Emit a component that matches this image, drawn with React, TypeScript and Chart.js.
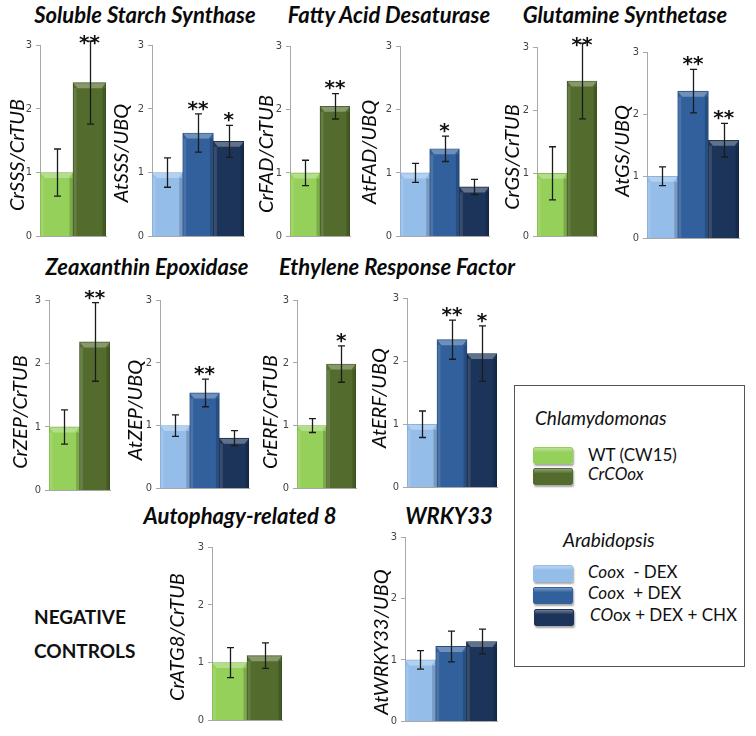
import React, { useEffect, useRef } from "react";
import { Chart, registerables } from "chart.js";

Chart.register(...registerables);

// ---------- data ----------
const crCategories = ["WT (CW15)", "CrCOox"];
const atCategories = ["Coox - DEX", "Coox + DEX", "COox + DEX + CHX"];
const yTicks = [0, 1, 2, 3];

const sssCrValues = [1.0, 2.41];
const sssCrErr = [0.37, 0.65];
const sssCrSig = ["", "**"];
const sssAtValues = [1.0, 1.62, 1.49];
const sssAtErr = [0.23, 0.3, 0.25];
const sssAtSig = ["", "**", "*"];

const fadCrValues = [1.0, 2.05];
const fadCrErr = [0.2, 0.2];
const fadCrSig = ["", "**"];
const fadAtValues = [1.0, 1.38, 0.78];
const fadAtErr = [0.15, 0.2, 0.12];
const fadAtSig = ["", "*", ""];

const gsCrValues = [1.0, 2.46];
const gsCrErr = [0.42, 0.6];
const gsCrSig = ["", "**"];
const gsAtValues = [1.0, 2.37, 1.58];
const gsAtErr = [0.15, 0.35, 0.27];
const gsAtSig = ["", "**", "**"];

const zepCrValues = [1.0, 2.34];
const zepCrErr = [0.27, 0.62];
const zepCrSig = ["", "**"];
const zepAtValues = [1.0, 1.52, 0.8];
const zepAtErr = [0.17, 0.22, 0.12];
const zepAtSig = ["", "**", ""];

const erfCrValues = [1.0, 1.98];
const erfCrErr = [0.11, 0.29];
const erfCrSig = ["", "*"];
const erfAtValues = [1.0, 2.34, 2.12];
const erfAtErr = [0.21, 0.31, 0.44];
const erfAtSig = ["", "**", "*"];

const atgCrValues = [1.0, 1.12];
const atgCrErr = [0.26, 0.22];
const atgCrSig = ["", ""];
const wrkyAtValues = [1.0, 1.22, 1.3];
const wrkyAtErr = [0.15, 0.25, 0.2];
const wrkyAtSig = ["", "", ""];

// ---------- styles ----------
const crColors = ["#95D05A", "#536C2D"];
const crBorders = ["#7DB045", "#3E5420"];
const atColors = ["#95BDE9", "#31609C", "#1C3459"];
const atBorders = ["#7FA6D4", "#254D80", "#132540"];

const FONT_UI = "Lato, 'Open Sans', 'DejaVu Sans', sans-serif";
const TICK_FONT = "'DejaVu Sans Condensed', 'Liberation Sans Narrow', 'DejaVu Sans', sans-serif";

type PanelDef = {
  labels: string[];
  values: number[];
  err: number[];
  sig: string[];
  colors: string[];
  borders: string[];
  yTitle: string;
  // layout (page pixels)
  ax: number;
  top: number;
  bottom: number;
  barW: number;
  tx: number;
  ty: number;
};

const panels: PanelDef[] = [
  { labels: crCategories, values: sssCrValues, err: sssCrErr, sig: sssCrSig, colors: crColors, borders: crBorders, yTitle: "CrSSS/CrTUB", ax: 40, top: 45, bottom: 237, barW: 33, tx: 18, ty: 155 },
  { labels: atCategories, values: sssAtValues, err: sssAtErr, sig: sssAtSig, colors: atColors, borders: atBorders, yTitle: "AtSSS/UBQ", ax: 152, top: 45, bottom: 237, barW: 30.7, tx: 122, ty: 153 },
  { labels: crCategories, values: fadCrValues, err: fadCrErr, sig: fadCrSig, colors: crColors, borders: crBorders, yTitle: "CrFAD/CrTUB", ax: 290, top: 46, bottom: 237, barW: 30, tx: 267, ty: 154 },
  { labels: atCategories, values: fadAtValues, err: fadAtErr, sig: fadAtSig, colors: atColors, borders: atBorders, yTitle: "AtFAD/UBQ", ax: 400, top: 46, bottom: 237, barW: 29.7, tx: 370, ty: 152 },
  { labels: crCategories, values: gsCrValues, err: gsCrErr, sig: gsCrSig, colors: crColors, borders: crBorders, yTitle: "CrGS/CrTUB", ax: 537, top: 47, bottom: 237, barW: 30, tx: 513, ty: 157 },
  { labels: atCategories, values: gsAtValues, err: gsAtErr, sig: gsAtSig, colors: atColors, borders: atBorders, yTitle: "AtGS/UBQ", ax: 647, top: 52, bottom: 239, barW: 30.7, tx: 623, ty: 151 },
  { labels: crCategories, values: zepCrValues, err: zepCrErr, sig: zepCrSig, colors: crColors, borders: crBorders, yTitle: "CrZEP/CrTUB", ax: 49, top: 300, bottom: 491, barW: 30.5, tx: 21, ty: 412 },
  { labels: atCategories, values: zepAtValues, err: zepAtErr, sig: zepAtSig, colors: atColors, borders: atBorders, yTitle: "AtZEP/UBQ", ax: 160, top: 300, bottom: 489, barW: 29.7, tx: 136, ty: 410 },
  { labels: crCategories, values: erfCrValues, err: erfCrErr, sig: erfCrSig, colors: crColors, borders: crBorders, yTitle: "CrERF/CrTUB", ax: 297, top: 300, bottom: 489, barW: 29.5, tx: 271, ty: 412 },
  { labels: atCategories, values: erfAtValues, err: erfAtErr, sig: erfAtSig, colors: atColors, borders: atBorders, yTitle: "AtERF/UBQ", ax: 407, top: 298, bottom: 488, barW: 30, tx: 380, ty: 398 },
  { labels: crCategories, values: atgCrValues, err: atgCrErr, sig: atgCrSig, colors: crColors, borders: crBorders, yTitle: "CrATG8/CrTUB", ax: 212, top: 547, bottom: 721, barW: 35, tx: 178, ty: 637 },
  { labels: atCategories, values: wrkyAtValues, err: wrkyAtErr, sig: wrkyAtSig, colors: atColors, borders: atBorders, yTitle: "AtWRKY33/UBQ", ax: 405, top: 537, bottom: 722, barW: 30.7, tx: 382, ty: 642 },
];

const titles = [
  { text: "Soluble Starch Synthase", cx: 145, cy: 15 },
  { text: "Fatty Acid Desaturase", cx: 389, cy: 15 },
  { text: "Glutamine Synthetase", cx: 625, cy: 15 },
  { text: "Zeaxanthin Epoxidase", cx: 147, cy: 267 },
  { text: "Ethylene Response Factor", cx: 397, cy: 267 },
  { text: "Autophagy-related 8", cx: 240, cy: 516 },
  { text: "WRKY33", cx: 449, cy: 516 },
];

function lighten(hex: string, amt: number) {
  const n = parseInt(hex.slice(1), 16);
  const r = (n >> 16) & 255, g = (n >> 8) & 255, b = n & 255;
  const f = (c: number) => Math.round(c + (255 - c) * amt);
  return `rgb(${f(r)},${f(g)},${f(b)})`;
}

const barDecorPlugin = {
  id: "barDecor",
  afterDatasetsDraw(chart: any, _args: any, opts: any) {
    const { ctx } = chart;
    const meta = chart.getDatasetMeta(0);
    const yScale = chart.scales.y;
    ctx.save();
    // bevel
    meta.data.forEach((el: any, i: number) => {
      const w = el.width;
      const l = el.x - w / 2 + 0.5, r = el.x + w / 2 - 0.5, t = el.y + 0.5, b = el.base;
      const col = opts.colors[i];
      ctx.fillStyle = lighten(col, 0.3);
      ctx.beginPath();
      ctx.moveTo(l, t);
      ctx.lineTo(r, t);
      ctx.lineTo(r - 4, t + 5);
      ctx.lineTo(l + 4, t + 5);
      ctx.closePath();
      ctx.fill();
      ctx.fillStyle = "rgba(255,255,255,0.12)";
      ctx.fillRect(l, t + 5, 3, b - t - 5);
      ctx.fillStyle = "rgba(0,0,0,0.18)";
      ctx.fillRect(r - 3, t + 5, 3, b - t - 5);
    });
    // error bars
    ctx.strokeStyle = "#1b1b1b";
    ctx.lineWidth = 1.3;
    meta.data.forEach((el: any, i: number) => {
      const v = opts.values[i], e = opts.err[i];
      const yHi = yScale.getPixelForValue(v + e);
      const yLo = yScale.getPixelForValue(v - e);
      const x = Math.round(el.x) + 0.5;
      ctx.beginPath();
      ctx.moveTo(x, yHi);
      ctx.lineTo(x, yLo);
      ctx.moveTo(x - 3.5, yHi);
      ctx.lineTo(x + 3.5, yHi);
      ctx.moveTo(x - 3.5, yLo);
      ctx.lineTo(x + 3.5, yLo);
      ctx.stroke();
      const s = opts.sig[i];
      if (s) {
        const level = Math.min(v + e + 0.13, 3.08);
        const yc = yScale.getPixelForValue(level);
        ctx.font = "bold 20px 'DejaVu Sans', sans-serif";
        ctx.textAlign = "center";
        ctx.textBaseline = "alphabetic";
        ctx.fillStyle = "#111";
        const m = ctx.measureText(s);
        const asc = m.actualBoundingBoxAscent, desc = m.actualBoundingBoxDescent;
        ctx.fillText(s, el.x, yc + (asc - desc) / 2);
      }
    });
    ctx.restore();
  },
};

const sideTitlePlugin = {
  id: "sideTitle",
  afterDraw(chart: any, _args: any, opts: any) {
    const { ctx } = chart;
    ctx.save();
    ctx.translate(opts.x, opts.y);
    ctx.rotate(-Math.PI / 2);
    ctx.font = `italic 20px ${FONT_UI}`;
    ctx.textAlign = "center";
    ctx.textBaseline = "middle";
    ctx.fillStyle = "#0a0a0a";
    ctx.fillText(opts.text, 0, 0);
    ctx.restore();
  },
};

const W = 48, PT = 34, PR = 6, PB = 10;

function Panel({ p }: { p: PanelDef }) {
  const ref = useRef<HTMLCanvasElement>(null);
  const n = p.values.length;
  const cw = Math.round(W + n * p.barW + PR);
  const ch = PT + (p.bottom - p.top) + PB;
  const left = p.ax - W;
  const top = p.top - PT;
  useEffect(() => {
    if (!ref.current) return;
    const chart = new Chart(ref.current, {
      type: "bar",
      data: {
        labels: p.labels,
        datasets: [
          {
            data: p.values,
            backgroundColor: p.colors,
            borderColor: p.borders,
            borderWidth: 1,
            categoryPercentage: 1,
            barPercentage: 1,
          },
        ],
      },
      options: {
        animation: false,
        responsive: false,
        layout: { padding: { left: 0, top: PT, right: cw - W - n * p.barW, bottom: PB } },
        plugins: {
          legend: { display: false },
          tooltip: { enabled: false },
          barDecor: { values: p.values, err: p.err, sig: p.sig, colors: p.colors },
          sideTitle: { text: p.yTitle, x: p.tx - left, y: p.ty - top },
        } as any,
        scales: {
          x: {
            ticks: { display: false },
            grid: { display: false },
            border: { display: true, color: "#A8A8A8", width: 1 },
            afterFit: (s: any) => {
              s.height = 0;
            },
          },
          y: {
            min: 0,
            max: 3,
            afterBuildTicks: (s: any) => {
              s.ticks = yTicks.map((v) => ({ value: v }));
            },
            ticks: {
              padding: 4,
              color: "#444",
              font: { family: TICK_FONT, size: 11 },
            },
            grid: { drawOnChartArea: false, drawTicks: true, tickLength: 4, color: "#A8A8A8" },
            border: { display: true, color: "#A8A8A8", width: 1 },
            afterFit: (s: any) => {
              s.width = W;
            },
          },
        },
      },
      plugins: [barDecorPlugin, sideTitlePlugin],
    } as any);
    return () => chart.destroy();
  }, []);
  return (
    <canvas
      ref={ref}
      width={cw}
      height={ch}
      style={{ position: "absolute", left, top, width: cw, height: ch }}
    />
  );
}

function Swatch({ x, y, color, w = 40, h = 17 }: { x: number; y: number; color: string; w?: number; h?: number }) {
  return (
    <div
      style={{
        position: "absolute",
        left: x,
        top: y,
        width: w,
        height: h,
        boxSizing: "border-box",
        background: `linear-gradient(to bottom, ${lighten(color, 0.35)} 0%, ${color} 30%, ${color} 100%)`,
        border: `1px solid ${color}`,
        borderRadius: 2,
        boxShadow: "1px 2px 2px rgba(0,0,0,0.35)",
      }}
    />
  );
}

function TextAt({ x, cy, children, size = 17, italic = false, bold = false }: any) {
  return (
    <div
      style={{
        position: "absolute",
        left: x,
        top: cy - 12,
        height: 24,
        lineHeight: "24px",
        fontFamily: FONT_UI,
        fontSize: size,
        fontStyle: italic ? "italic" : "normal",
        fontWeight: bold ? 700 : 400,
        color: "#111",
        whiteSpace: "pre",
      }}
    >
      {children}
    </div>
  );
}

export default function App() {
  return (
    <div
      style={{
        position: "absolute",
        left: 0,
        top: 0,
        width: 756,
        height: 736,
        background: "#FFFFFF",
        overflow: "hidden",
      }}
    >
      {titles.map((t) => (
        <div
          key={t.text}
          style={{
            position: "absolute",
            left: t.cx - 200,
            width: 400,
            top: t.cy - 14,
            height: 28,
            lineHeight: "28px",
            textAlign: "center",
            fontFamily: FONT_UI,
            fontWeight: 700,
            fontStyle: "italic",
            fontSize: 22,
            color: "#0a0a0a",
            whiteSpace: "nowrap",
          }}
        >
          {t.text}
        </div>
      ))}
      {panels.map((p, i) => (
        <Panel key={i} p={p} />
      ))}
      <TextAt x={34} cy={617} size={19} bold>
        NEGATIVE
      </TextAt>
      <TextAt x={34} cy={651} size={19} bold>
        CONTROLS
      </TextAt>
      {/* legend */}
      <div
        style={{
          position: "absolute",
          left: 514,
          top: 385,
          width: 231,
          height: 282,
          boxSizing: "border-box",
          border: "1px solid #555",
          background: "#fff",
        }}
      />
      <TextAt x={535} cy={418} size={19} italic>
        Chlamydomonas
      </TextAt>
      <Swatch x={533} y={447} color={crColors[0]} />
      <Swatch x={533} y={468} color={crColors[1]} />
      <TextAt x={588} cy={455} size={17}>
        WT (CW15)
      </TextAt>
      <TextAt x={588} cy={474} size={17} italic>
        CrCOox
      </TextAt>
      <TextAt x={563} cy={540} size={19} italic>
        Arabidopsis
      </TextAt>
      <Swatch x={533} y={565} color={atColors[0]} />
      <Swatch x={533} y={587} color={atColors[1]} />
      <Swatch x={534} y={609} color={atColors[2]} />
      <TextAt x={588} cy={572} size={17}>
        <i>Coo</i>x  - DEX
      </TextAt>
      <TextAt x={588} cy={593} size={17}>
        <i>Coo</i>x  + DEX
      </TextAt>
      <TextAt x={590} cy={615} size={17}>
        <i>CO</i>ox + DEX + CHX
      </TextAt>
    </div>
  );
}
